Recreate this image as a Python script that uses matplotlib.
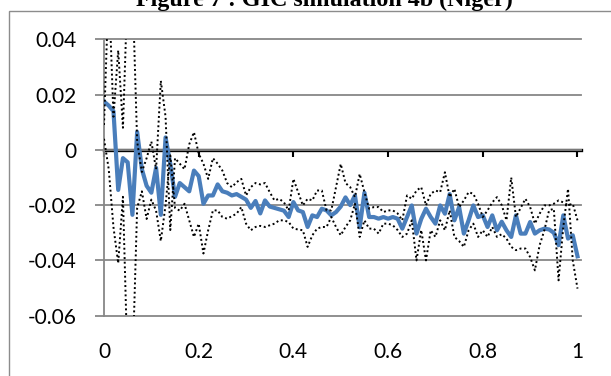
import matplotlib
matplotlib.use('Agg')
import matplotlib.pyplot as plt
from matplotlib.patches import Rectangle
import numpy as np

plt.rcParams['font.family'] = ['Lato', 'DejaVu Sans']

# x steps of 0.01 from 0 to 1
x = np.round(np.arange(101) * 0.01, 2)

# blue line (mean of simulations)
mean_gic = [
    0.0175, 0.0160, 0.0140, -0.0145, -0.0030, -0.0045, -0.0235, 0.0065, -0.0070, -0.0130,
    -0.0155, -0.0065, -0.0235, 0.0045, -0.0050, -0.0170, -0.0120, -0.0135, -0.0150, -0.0075,
    -0.0095, -0.0195, -0.0165, -0.0165, -0.0125, -0.0150, -0.0155, -0.0165, -0.0160, -0.0170,
    -0.0180, -0.0210, -0.0185, -0.0230, -0.0183, -0.0205, -0.0210, -0.0215, -0.0220, -0.0243,
    -0.0189, -0.0219, -0.0225, -0.0279, -0.0237, -0.0243, -0.0213, -0.0219, -0.0237, -0.0225,
    -0.0205, -0.0172, -0.0200, -0.0165, -0.0280, -0.0155, -0.0243, -0.0243, -0.0249, -0.0243,
    -0.0249, -0.0243, -0.0249, -0.0285, -0.0243, -0.0201, -0.0303, -0.0250, -0.0213, -0.0243,
    -0.0267, -0.0201, -0.0231, -0.0160, -0.0255, -0.0207, -0.0303, -0.0255, -0.0201, -0.0243,
    -0.0237, -0.0279, -0.0237, -0.0291, -0.0260, -0.0291, -0.0315, -0.0237, -0.0303, -0.0303,
    -0.0261, -0.0303, -0.0291, -0.0285, -0.0288, -0.0300, -0.0345, -0.0237, -0.0321, -0.0309,
    -0.0385,
]

# dotted bounds
upper = [
    0.009, 0.060, 0.012, 0.036, 0.008, 0.060, 0.060, 0.003, -0.008, -0.003,
    0.003, -0.007, 0.025, 0.012, -0.029, -0.003, -0.005, -0.007, 0.002, 0.0064,
    -0.0014, -0.0050, -0.0105, -0.0030, -0.0050, -0.0075, -0.0120, -0.0135, -0.0117, -0.0105,
    -0.0165, -0.0135, -0.0120, -0.0125, -0.0120, -0.0153, -0.0183, -0.0177, -0.0190, -0.0219,
    -0.0105, -0.0153, -0.0201, -0.0177, -0.0183, -0.0147, -0.0147, -0.0219, -0.0219, -0.0135,
    -0.0051, -0.0120, -0.0135, -0.0171, -0.0087, -0.0153, -0.0213, -0.0207, -0.0207, -0.0225,
    -0.0219, -0.0219, -0.0230, -0.0255, -0.0165, -0.0177, -0.0147, -0.0135, -0.0201, -0.0159,
    -0.0147, -0.0153, -0.0081, -0.0171, -0.0141, -0.0207, -0.0183, -0.0153, -0.0159, -0.0195,
    -0.0243, -0.0219, -0.0190, -0.0171, -0.0200, -0.0255, -0.0100, -0.0243, -0.0210, -0.0177,
    -0.0207, -0.0267, -0.0231, -0.0201, -0.0201, -0.0195, -0.0183, -0.0190, -0.0200, -0.0195,
    -0.0255,
]
lower = [
    0.004, -0.007, -0.028, -0.041, -0.017, -0.080, -0.080, -0.021, -0.015, -0.025,
    -0.018, -0.022, -0.033, -0.020, -0.002, -0.021, -0.022, -0.0195, -0.0255, -0.0315,
    -0.0267, -0.0375, -0.0291, -0.0219, -0.0219, -0.0243, -0.0249, -0.0240, -0.0231, -0.0207,
    -0.0267, -0.0291, -0.0279, -0.0275, -0.0279, -0.0273, -0.0267, -0.0255, -0.0255, -0.0261,
    -0.0285, -0.0288, -0.0291, -0.0351, -0.0309, -0.0285, -0.0279, -0.0279, -0.0243, -0.0279,
    -0.0309, -0.0279, -0.0255, -0.0195, -0.0315, -0.0255, -0.0285, -0.0285, -0.0303, -0.0267,
    -0.0267, -0.0273, -0.0290, -0.0315, -0.0303, -0.0255, -0.0400, -0.0290, -0.0400, -0.0291,
    -0.0315, -0.0255, -0.0291, -0.0219, -0.0315, -0.0330, -0.0351, -0.0291, -0.0267, -0.0315,
    -0.0291, -0.0315, -0.0279, -0.0315, -0.0305, -0.0321, -0.0351, -0.0363, -0.0357, -0.0357,
    -0.0388, -0.0436, -0.0345, -0.0291, -0.0219, -0.0213, -0.0472, -0.0279, -0.0141, -0.0400,
    -0.0502,
]

y_ticks = [0.04, 0.02, 0, -0.02, -0.04, -0.06]
y_labels = ["0.04", "0.02", "0", "-0.02", "-0.04", "-0.06"]
x_ticks = [0, 0.2, 0.4, 0.6, 0.8, 1]
x_labels = ["0", "0.2", "0.4", "0.6", "0.8", "1"]

grid_col = "#878787"

fig = plt.figure(figsize=(6.11, 3.76), dpi=100)
ax = fig.add_axes([104 / 611, 60.3 / 376, 477 / 611, 276.4 / 376])

# series
ax.plot(x, mean_gic, color="#4A7EBB", lw=3.0, solid_joinstyle="round", zorder=3)
ax.plot(x, upper, color="black", lw=1.4, linestyle=(0, (1, 1.4)), zorder=4)
ax.plot(x, lower, color="black", lw=1.4, linestyle=(0, (1, 1.4)), zorder=4)

# axes setup
ax.set_xlim(0, 1.0074)
ax.set_ylim(-0.06, 0.04)
ax.set_yticks(y_ticks, y_labels)
ax.set_xticks(x_ticks, x_labels)
ax.grid(axis="y", color=grid_col, lw=1.3)
ax.set_axisbelow(True)
for s in ["top", "right", "bottom"]:
    ax.spines[s].set_visible(False)
ax.spines["left"].set_color(grid_col)
ax.spines["left"].set_linewidth(1.3)
ax.tick_params(axis="y", length=6.5, width=1.3, color=grid_col, pad=13, labelsize=15)
ax.tick_params(axis="x", length=0, pad=19, labelsize=15)
for gl in ax.get_ygridlines():
    gl.set_clip_on(False)

# black zero line with small ticks
zero_ax = ax.secondary_xaxis(0.6)
zero_ax.set_xticks(x_ticks)
zero_ax.tick_params(direction="in", length=5, width=1.5, color="black",
                    labeltop=False, labelbottom=False)
for s in zero_ax.spines.values():
    s.set_linewidth(2.4)
    s.set_color("black")

# chart border and title (cut at the top, as in the source)
fig.add_artist(Rectangle((8.5 / 611, -0.05), 1.0, 1.05 - 10.5 / 376,
                         transform=fig.transFigure, fill=False,
                         edgecolor="#8c8c8c", lw=1))
fig.text(324 / 611, 1 - 6 / 376, "Figure 7 : GIC simulation 4b (Niger)",
         ha="center", va="baseline", fontsize=17.3, fontweight="bold",
         family="Liberation Serif")

fig.savefig("out.png", dpi=100)
plt.close(fig)
